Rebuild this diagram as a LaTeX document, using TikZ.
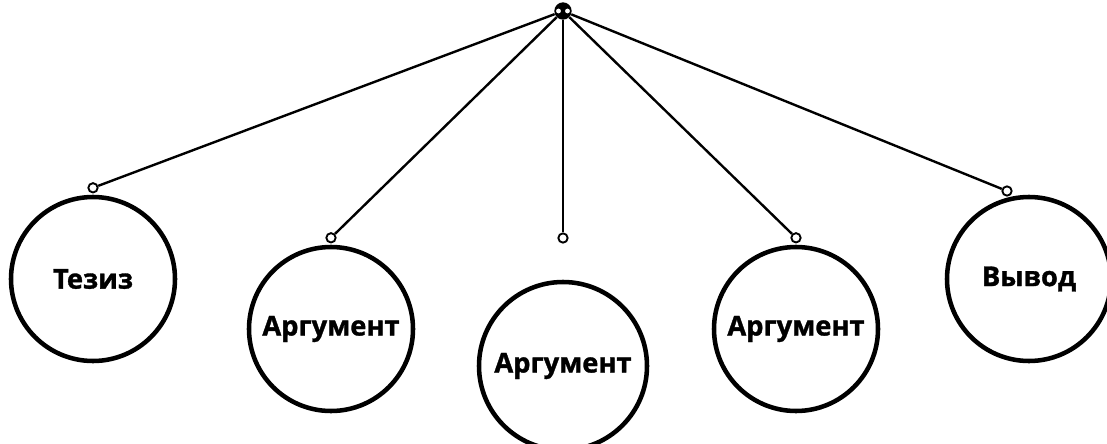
\documentclass[tikz,border=0pt]{standalone}
\usepackage{fontspec}
\setmainfont{Open Sans}[BoldFeatures={FakeBold=1.2}]
\usetikzlibrary{positioning}

\tikzset{
    topic/.style={circle, draw, line width=3.4pt, minimum size=123pt, inner sep=0pt,
        font=\bfseries\fontsize{20.5}{24}\selectfont},
    pin/.style={circle, draw, fill=white, line width=1.4pt, minimum size=7pt, inner sep=0pt},
    wire/.style={line width=1.8pt}
}

\begin{document}
\begin{tikzpicture}[x=0.75pt, y=-0.75pt]
    \useasboundingbox (0, 0) rectangle (1107, 443);
    \clip (0, 0) rectangle (1107, 443);

    % circles
    \node[topic] (tez) at (93, 279) {Тезиз};
    \node[topic] (arg1) at (331, 329) {Аргумент};
    \node[topic, minimum size=126pt] (arg2) at (563, 366) {Аргумент};
    \node[topic] (arg3) at (796, 329) {Аргумент};
    \node[topic] (vyv) at (1029, 279) {Вывод};

    % hanging points
    \node[pin, above=1pt of tez] (tezpin) {};
    \node[pin, above=1pt of arg1] (arg1pin) {};
    \node[pin] (arg2pin) at (563, 238) {};
    \node[pin, above=1pt of arg3] (arg3pin) {};
    \node[pin] (vyvpin) at (1007, 191) {};

    % knot on top
    \node[circle, fill=black, minimum size=13pt, inner sep=0pt] (hub) at (563, 11) {};
    \foreach \x in {-4.5, 4.5} {
        \fill[white] (563 + \x, 11) circle (1.8pt);
    };

    \foreach \p in {tezpin, arg1pin, arg2pin, arg3pin, vyvpin} {
        \draw[wire] (hub) -- (\p);
    };
\end{tikzpicture}
\end{document}
